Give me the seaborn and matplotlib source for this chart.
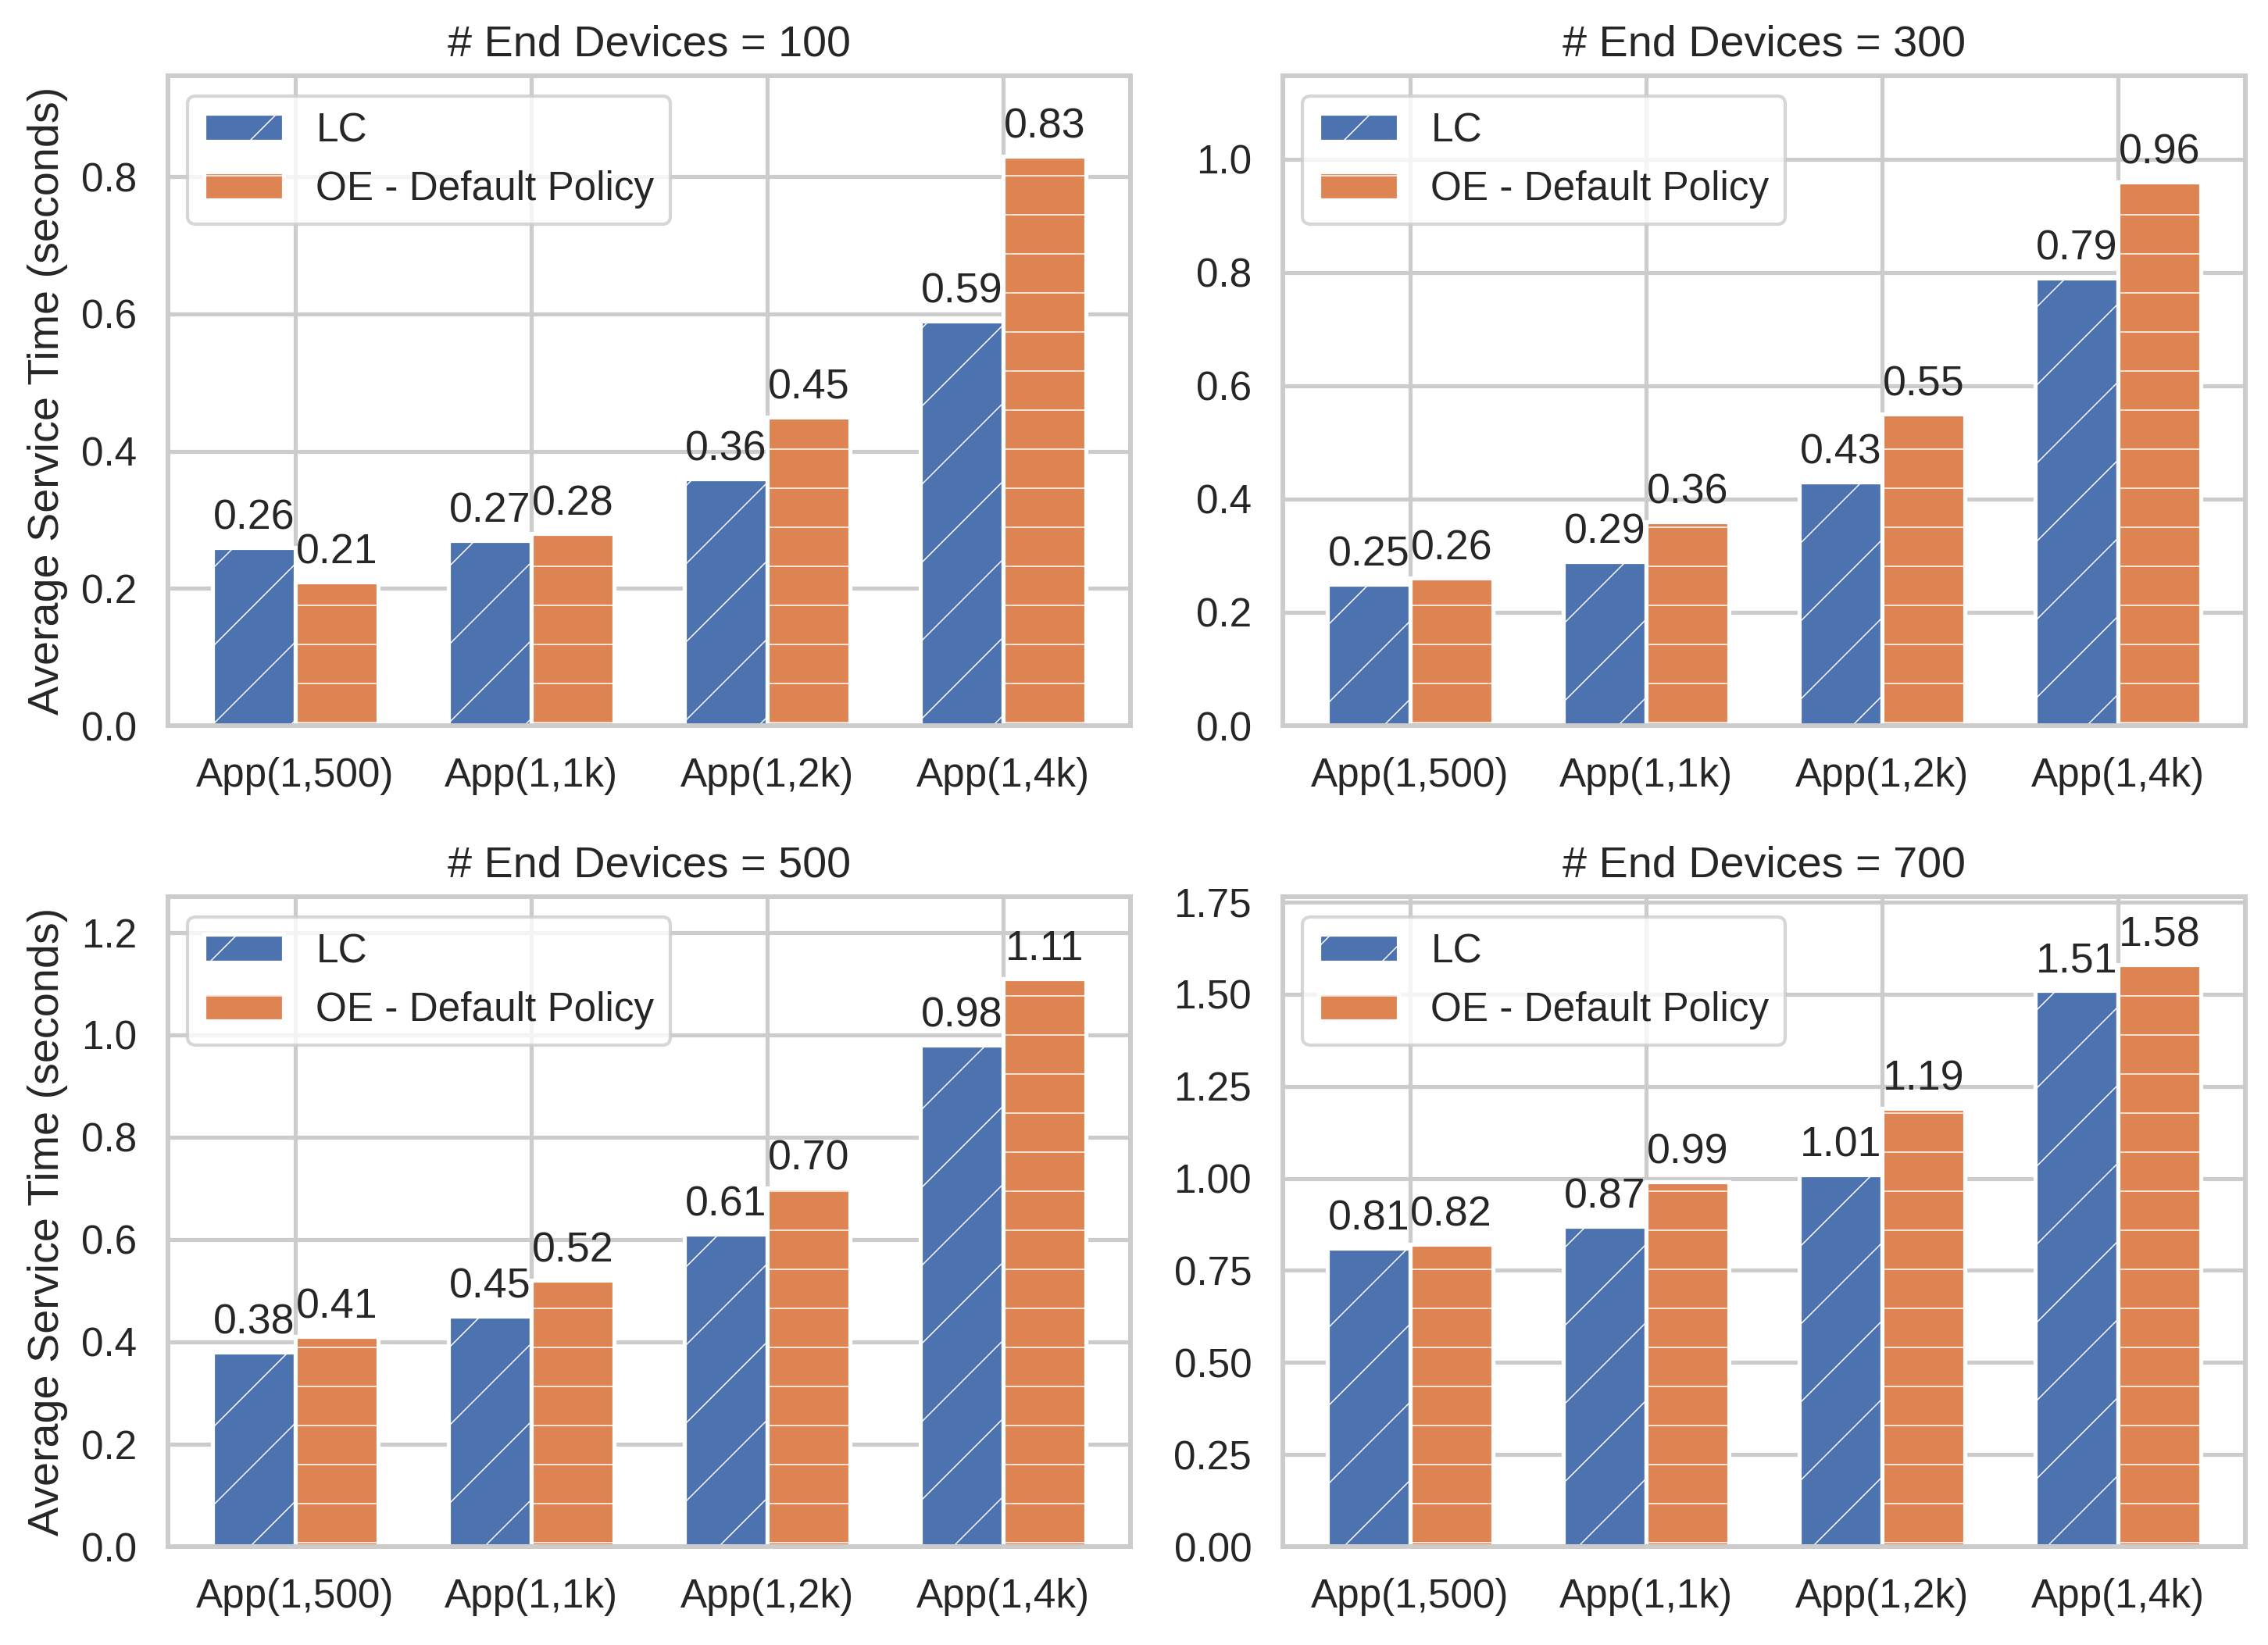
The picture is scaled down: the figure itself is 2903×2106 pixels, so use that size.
import pandas as pd
import seaborn as sns
import matplotlib.pyplot as plt

# Veriler
apps = ["App(1,500)", "App(1,1k)", "App(1,2k)", "App(1,4k)"]
devices = [100, 300, 500, 700]
policies = ["LC", "OE - Default Policy"]

lc_100 = [0.26, 0.27, 0.36, 0.59]
oe_100 = [0.21, 0.28, 0.45, 0.83]
lc_300 = [0.25, 0.29, 0.43, 0.79]
oe_300 = [0.26, 0.36, 0.55, 0.96]
lc_500 = [0.38, 0.45, 0.61, 0.98]
oe_500 = [0.41, 0.52, 0.70, 1.11]
lc_700 = [0.81, 0.87, 1.01, 1.51]
oe_700 = [0.82, 0.99, 1.19, 1.58]

lc_all = [lc_100, lc_300, lc_500, lc_700]
oe_all = [oe_100, oe_300, oe_500, oe_700]
y_tops = [0.947, 1.147, 1.27, 1.765]
y_steps = [0.2, 0.2, 0.2, 0.25]

sns.set_theme(style="whitegrid", palette="deep",
              rc={"grid.linewidth": 1.25, "axes.linewidth": 1.45})
plt.rcParams["font.family"] = ["Liberation Sans", "DejaVu Sans"]
plt.rcParams["hatch.linewidth"] = 0.35
fs_big = 13.4
fs_tick = 12.3
fs_ann = 12.9

fig, axes = plt.subplots(2, 2, figsize=(9.677, 7.02), dpi=300)
plt.subplots_adjust(left=0.074, right=0.990, top=0.954, bottom=0.0598,
                    wspace=0.158, hspace=0.263)

for i, ax in enumerate(axes.flat):
    df = pd.DataFrame({
        "app": apps * 2,
        "policy": [policies[0]] * 4 + [policies[1]] * 4,
        "time": lc_all[i] + oe_all[i],
    })
    sns.barplot(data=df, x="app", y="time", hue="policy", ax=ax, saturation=1,
                width=0.7, edgecolor="white", linewidth=1.25, legend=False)
    for cont, h in zip(ax.containers, ["/", "-"]):
        for bar in cont:
            bar.set_hatch(h)
        ax.bar_label(cont, fmt="%.2f", padding=3, fontsize=fs_ann, color="#262626")

    ax.set_title(f"# End Devices = {devices[i]}", fontsize=fs_big)
    ax.set_xlabel("")
    if i % 2 == 0:
        ax.set_ylabel("Average Service Time (seconds)", fontsize=fs_big)
    else:
        ax.set_ylabel("")
    ax.set_ylim(0, y_tops[i])
    ax.set_xlim(-0.54, 3.54)
    ax.yaxis.set_major_locator(plt.MultipleLocator(y_steps[i]))
    if i == 3:
        ax.yaxis.set_major_formatter(plt.FormatStrFormatter("%.2f"))
    else:
        ax.yaxis.set_major_formatter(plt.FormatStrFormatter("%.1f"))
    ax.tick_params(labelsize=fs_tick)
    ax.xaxis.grid(True)
    ax.yaxis.grid(True)
    ax.set_axisbelow(True)
    handles = [ax.containers[0][0], ax.containers[1][0]]
    ax.legend(handles, policies, loc="upper left", fontsize=fs_tick)

plt.savefig("out.png")
